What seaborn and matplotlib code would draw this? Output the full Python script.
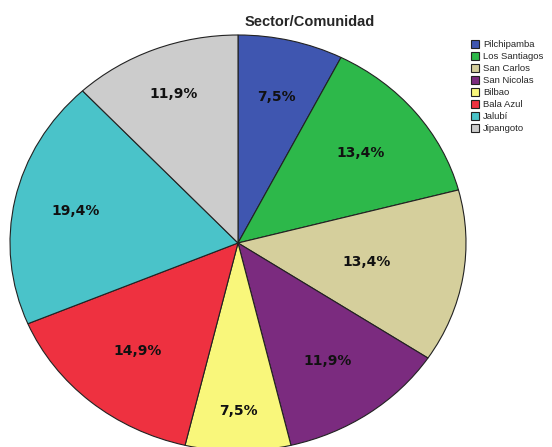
import matplotlib
matplotlib.use("Agg")
import numpy as np
import matplotlib.pyplot as plt
import seaborn as sns

sns.set_theme(style="white")
plt.rcParams['font.family'] = ['DejaVu Sans']

sectores = ["Pilchipamba", "Los Santiagos", "San Carlos", "San Nicolas",
            "Bilbao", "Bala Azul", "Jalubí", "Jipangoto"]
frecuencias = [5, 9, 9, 8, 5, 10, 13, 8]
colores = ["#3F56B0", "#2DB84A", "#D5CF9C", "#7B2B7F",
           "#F9F77B", "#EE3140", "#4AC3C9", "#CCCCCC"]
# radial placement of each percentage label (fraction of the radius)
dist_etiqueta = [0.72, 0.69, 0.57, 0.69, 0.81, 0.68, 0.73, 0.77]
palette = sns.color_palette(colores)

W, H = 552, 447
fig = plt.figure(figsize=(W / 100, H / 100), dpi=100)
# elliptical pie: axes spans the pie's bounding box
left, right, top, bottom = 10, 466, 35, 451
ax = fig.add_axes([left / W, 1 - bottom / H, (right - left) / W, (bottom - top) / H])

wedges, texts, autotexts = ax.pie(
    frecuencias,
    colors=palette,
    startangle=90,
    counterclock=False,
    autopct=lambda p: f"{p:.1f}%".replace(".", ","),
    pctdistance=0.70,
    wedgeprops=dict(edgecolor="#222222", linewidth=0.8),
    textprops=dict(fontsize=10, fontweight="bold", color="#111111"),
)
for w, t, d in zip(wedges, autotexts, dist_etiqueta):
    ang = np.deg2rad((w.theta1 + w.theta2) / 2)
    t.set_position((d * np.cos(ang), d * np.sin(ang)))

ax.set_aspect("auto")
ax.set_xlim(-1.0, 1.0)
ax.set_ylim(-1.0, 1.0)
ax.axis("off")

fig.text(310 / W, 1 - 22 / H, "Sector/Comunidad", ha="center", va="center",
         fontsize=10.5, fontweight="bold", family=["Liberation Sans", "DejaVu Sans"])

fig.legend(wedges, sectores, loc="upper left",
           bbox_to_anchor=(467 / W, 1 - 36 / H), frameon=False,
           prop=dict(family=["Liberation Sans", "DejaVu Sans"], size=6.8),
           handlelength=0.9, handleheight=0.9, handletextpad=0.4,
           labelspacing=0.3, borderaxespad=0.0)

fig.savefig("out.png", dpi=100)
